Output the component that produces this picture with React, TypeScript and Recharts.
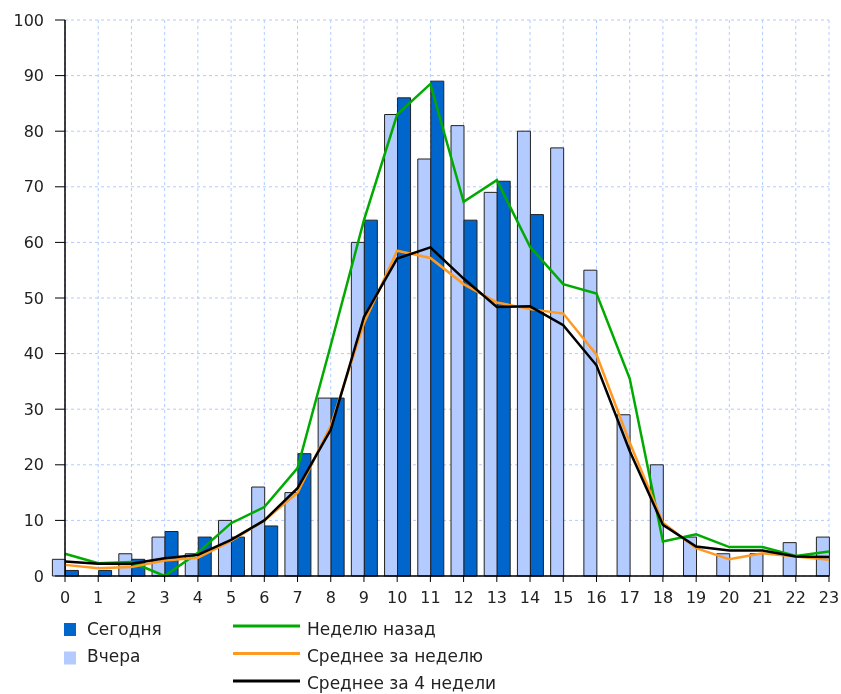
import React from 'react';
import { ComposedChart, Bar, Line, XAxis, YAxis, CartesianGrid } from 'recharts';

const hours = [0, 1, 2, 3, 4, 5, 6, 7, 8, 9, 10, 11, 12, 13, 14, 15, 16, 17, 18, 19, 20, 21, 22, 23];
const yTicks = [0, 10, 20, 30, 40, 50, 60, 70, 80, 90, 100];

// Сегодня
const today = [1, 1, 3, 8, 7, 7, 9, 22, 32, 64, 86, 89, 64, 71, 65, null, null, null, null, null, null, null, null, null];
// Вчера
const yesterday = [3, 0, 4, 7, 4, 10, 16, 15, 32, 60, 83, 75, 81, 69, 80, 77, 55, 29, 20, 7, 4, 4, 6, 7];
// Неделю назад
const weekAgo = [4, 2.3, 2.5, 0, 4.2, 9.5, 12.4, 19.4, 41.5, 64, 83, 88.5, 67.3, 71.2, 59.2, 52.5, 50.8, 35.5, 6.2, 7.5, 5.2, 5.2, 3.6, 4.4];
// Среднее за неделю
const avgWeek = [2, 1.4, 1.6, 2.8, 3.3, 6.3, 10, 15, 27, 45.5, 58.5, 57.2, 52.5, 49.2, 48, 47.2, 39.8, 24, 9.6, 5, 3, 4.1, 3.5, 2.9];
// Среднее за 4 недели
const avg4Weeks = [2.6, 2.2, 2.2, 3.2, 3.8, 6.5, 10, 15.8, 26.3, 46.6, 57.1, 59.1, 53.5, 48.4, 48.5, 45.1, 37.9, 22.5, 9.2, 5.3, 4.6, 4.6, 3.5, 3.4];

const legendBars = ['Сегодня', 'Вчера'];
const legendLines = ['Неделю назад', 'Среднее за неделю', 'Среднее за 4 недели'];

const data = hours.map((h, i) => ({
  hour: h,
  today: today[i],
  yesterday: yesterday[i],
  weekAgo: weekAgo[i],
  avgWeek: avgWeek[i],
  avg4Weeks: avg4Weeks[i],
}));

const FONT = '"DejaVu Sans", sans-serif';
const DARK = '#0066cc';
const LIGHT = '#b3cbff';
const GREEN = '#00aa00';
const ORANGE = '#ff9922';

export default function App() {
  const barColors = [DARK, LIGHT];
  const lineColors = [GREEN, ORANGE, '#000000'];
  return (
    <div style={{ position: 'fixed', left: 0, top: 0, width: 841, height: 694, overflow: 'visible' }}>
      <ComposedChart
        width={841}
        height={694}
        data={data}
        margin={{ top: 20, right: 12, bottom: 88, left: 0 }}
        barGap={0}
        style={{ overflow: 'visible' }}
      >
        <CartesianGrid stroke="#b3cbff" strokeDasharray="3 3" />
        <XAxis
          dataKey="hour"
          type="number"
          domain={[0, 23]}
          ticks={hours}
          interval={0}
          height={30}
          tickSize={6}
          tickMargin={10}
          axisLine={{ stroke: '#000', strokeWidth: 1.5 }}
          tickLine={{ stroke: '#000' }}
          tick={{ fill: '#222', fontSize: 16, fontFamily: FONT }}
        />
        <YAxis
          type="number"
          domain={[0, 100]}
          ticks={yTicks}
          interval={0}
          width={65}
          tickSize={10}
          tickMargin={11}
          axisLine={{ stroke: '#000', strokeWidth: 1.5 }}
          tickLine={{ stroke: '#000' }}
          tick={{ fill: '#222', fontSize: 16, fontFamily: FONT }}
        />
        <Bar dataKey="yesterday" fill={LIGHT} stroke="#222" strokeWidth={1} barSize={13} isAnimationActive={false} />
        <Bar dataKey="today" fill={DARK} stroke="#222" strokeWidth={1} barSize={13} isAnimationActive={false} />
        <Line dataKey="weekAgo" type="linear" stroke={GREEN} strokeWidth={2.5} dot={false} activeDot={false} isAnimationActive={false} />
        <Line dataKey="avgWeek" type="linear" stroke={ORANGE} strokeWidth={2.5} dot={false} activeDot={false} isAnimationActive={false} />
        <Line dataKey="avg4Weeks" type="linear" stroke="#000000" strokeWidth={2.5} dot={false} activeDot={false} isAnimationActive={false} />
      </ComposedChart>
      <svg
        width={841}
        height={694}
        style={{ position: 'absolute', left: 0, top: 0, pointerEvents: 'none' }}
      >
        {legendBars.map((name, i) => (
          <g key={name}>
            <rect x={64} y={623 + i * 28.5} width={12} height={13} fill={barColors[i]} />
            <text x={87} y={635 + i * 27} fontSize={17} fontFamily={FONT} fill="#222">
              {name}
            </text>
          </g>
        ))}
        {legendLines.map((name, i) => (
          <g key={name}>
            <line x1={233} x2={300} y1={626 + i * 27.5} y2={626 + i * 27.5} stroke={lineColors[i]} strokeWidth={3} />
            <text x={307} y={635 + i * 27} fontSize={17} fontFamily={FONT} fill="#222">
              {name}
            </text>
          </g>
        ))}
      </svg>
    </div>
  );
}
